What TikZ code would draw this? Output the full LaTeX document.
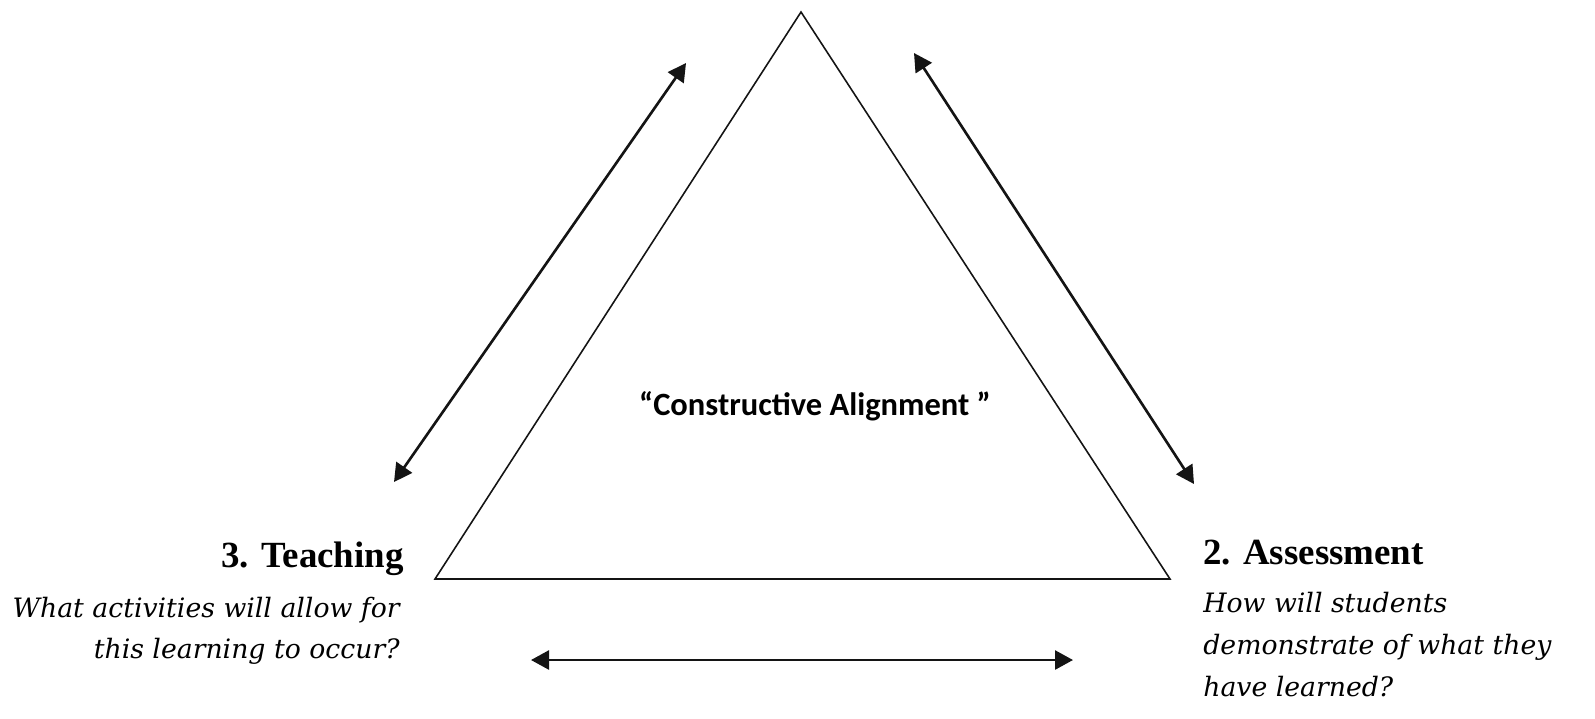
\documentclass[tikz,border=0pt]{standalone}
\usepackage{fontspec}
\setmainfont{Liberation Serif}
\newfontfamily\questfont{DejaVu Serif}
\newfontfamily\titlefont{Carlito}
\usepackage{xcolor}
\definecolor{inkblack}{RGB}{20, 20, 20}
\usepackage{tikz}
\usetikzlibrary{arrows.meta, positioning}

\tikzset{
    heading/.style={font=\fontsize{21}{25}\selectfont\bfseries, inner sep=0pt},
    question/.style={font=\questfont\itshape\fontsize{15.2}{18}\selectfont, inner sep=0pt},
    link/.style={line width=1.5pt, inkblack, {Triangle[length=0.36cm, width=0.38cm]}-{Triangle[length=0.36cm, width=0.38cm]}}
}

\begin{document}
\begin{tikzpicture}[x=0.02cm, y=-0.02cm]
    \useasboundingbox (0,0) rectangle (1595,718);

    % the triangle
    \coordinate (top) at (801,12);
    \coordinate (left) at (435,579);
    \coordinate (right) at (1170,579);
    \draw[line width=0.9pt, inkblack] (top) -- (left) -- (right) -- cycle;
    \node[font=\titlefont\bfseries\fontsize{18.5}{22}\selectfont, inner sep=0pt, anchor=base] (ca) at (815,415) {“Constructive Alignment ”};

    % arrows between the corners
    \coordinate (tl1) at (394,482);
    \coordinate (tl2) at (686,63);
    \coordinate (tr1) at (914,53);
    \coordinate (tr2) at (1194,484);
    \coordinate (b1) at (531,660);
    \coordinate (b2) at (1073,660);
    \draw[link] (tl1) -- (tl2);
    \draw[link] (tr1) -- (tr2);
    \draw[link] (b1) -- (b2);

    % teaching
    \node[heading, anchor=base east] (teach) at (404,567) {3. Teaching};
    \node[question, anchor=base east] (teachq1) at (400,617) {What activities will allow for};
    \node[question, anchor=base east] (teachq2) at (400,658) {this learning to occur?};

    % assessment
    \node[heading, anchor=base west] (assess) at (1203,564) {2. Assessment};
    \node[question, anchor=base west] (assessq1) at (1203,612) {How will students};
    \node[question, anchor=base west] (assessq2) at (1203,654) {demonstrate of what they};
    \node[question, anchor=base west] (assessq3) at (1203,696) {have learned?};
\end{tikzpicture}
\end{document}
